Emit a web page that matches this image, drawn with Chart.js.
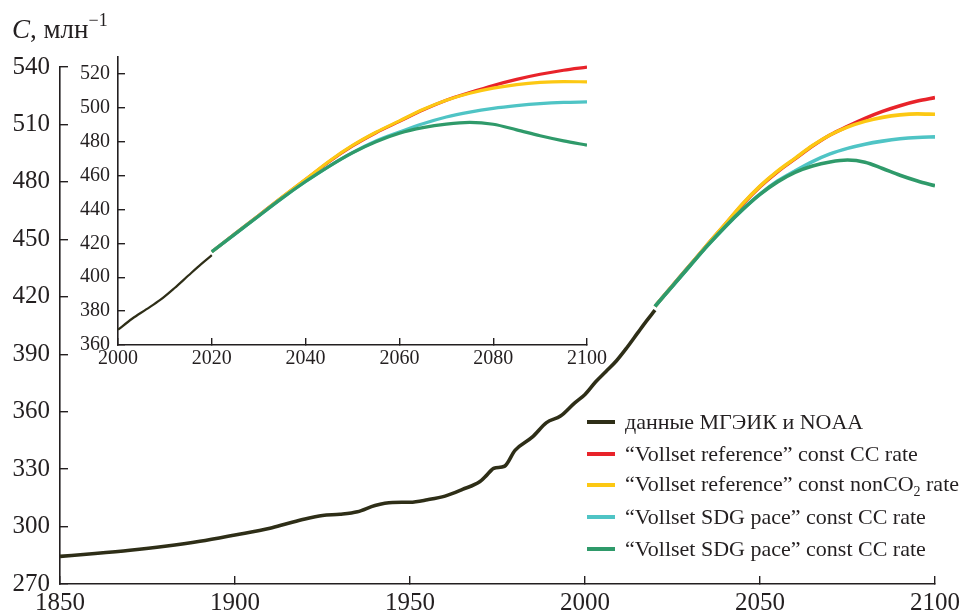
<!DOCTYPE html>
<html>
<head>
<meta charset="utf-8">
<script src="https://cdn.jsdelivr.net/npm/chart.js@4.4.1/dist/chart.umd.min.js"></script>
<style>
    html, body { margin: 0; padding: 0; background: #fff; }
    #wrap { position: relative; width: 963px; height: 613px; font-family: "Liberation Serif", "Times New Roman", serif; color: #231f20; }
    #mainChart { position: absolute; left: 0; top: 0; }
    #insetChart { position: absolute; left: 70px; top: 40px; }
    #yTitle { position: absolute; left: 12px; top: 14px; font-size: 27px; line-height: 30px; white-space: nowrap; }
    #yTitle sup { font-size: 18px; position: relative; top: -3px; vertical-align: top; line-height: 18px; }
    #legend { position: absolute; left: 587px; top: 406px; font-size: 22px; }
    .legend-row { display: flex; align-items: center; height: 31.7px; white-space: nowrap; }
    .legend-swatch { width: 28px; height: 4px; margin-right: 10px; }
    .legend-row sub { font-size: 14px; }
</style>
</head>
<body>
<div id="wrap">
    <canvas id="mainChart" width="963" height="613"></canvas>
    <canvas id="insetChart" width="540" height="330"></canvas>
    <div id="yTitle"><i>C</i>, млн<sup>−1</sup></div>
    <div id="legend"></div>
</div>
<script>
// observed concentration (IPCC / NOAA)
const histYears = [1850, 1860, 1870, 1880, 1890, 1900, 1910, 1915, 1920, 1925, 1930, 1935, 1940, 1945, 1950, 1955, 1960, 1965, 1970, 1972, 1974, 1977, 1980, 1985, 1989, 1993, 1997, 2000, 2003, 2006, 2009, 2012, 2015, 2017, 2020];
const histValues = [284.4, 285.9, 287.6, 289.7, 292.3, 295.6, 299.1, 301.6, 304.0, 305.8, 306.4, 307.7, 311.0, 312.6, 312.7, 314.0, 315.9, 319.4, 323.5, 327.0, 330.5, 331.5, 339.8, 346.8, 354.3, 357.7, 364.5, 369.0, 375.5, 381.0, 386.6, 393.5, 401.0, 406.0, 413.0];

// scenario projections
const projYears = [2020, 2025, 2030, 2035, 2040, 2045, 2050, 2055, 2060, 2065, 2070, 2075, 2080, 2085, 2090, 2095, 2100];
const refCC = [415, 425.8, 436.5, 447.2, 457.6, 468.2, 477.5, 485.3, 492.0, 498.7, 504.5, 509.0, 513.2, 516.8, 519.8, 522.2, 524.0];
const refNonCO2 = [415, 425.8, 436.5, 447.3, 457.8, 468.5, 477.8, 485.6, 492.3, 499.0, 504.5, 508.6, 511.6, 513.7, 515.0, 515.5, 515.3];
const sdgCC = [415, 425.6, 436.2, 446.7, 456.5, 465.5, 473.6, 480.4, 485.7, 490.6, 494.6, 497.5, 499.7, 501.3, 502.5, 503.2, 503.5];
const sdgCC2 = [415, 425.6, 436.2, 446.7, 456.5, 465.5, 473.5, 480.0, 485.0, 488.3, 490.4, 491.4, 490.3, 487.0, 483.5, 480.5, 478.0];

const seriesNames = [
    'данные МГЭИК и NOAA',
    '“Vollset reference” const CC rate',
    '“Vollset reference” const nonCO<sub>2</sub> rate',
    '“Vollset SDG pace” const CC rate',
    '“Vollset SDG pace” const CC rate'
];
const seriesColors = ['#2e2e17', '#e8232a', '#fcc813', '#4fc4c5', '#2f9a6a'];

const textColor = '#231f20';
const serif = '"Liberation Serif", "Times New Roman", serif';

function toPoints(xs, ys, fromX) {
    const pts = [];
    xs.forEach((x, i) => { if (fromX === undefined || x >= fromX) pts.push({ x, y: ys[i] }); });
    return pts;
}

function makeDatasets(histWidth, projWidth, fromX) {
    const sources = [
        [histYears, histValues],
        [projYears, refCC],
        [projYears, refNonCO2],
        [projYears, sdgCC],
        [projYears, sdgCC2]
    ];
    // green on top of cyan, yellow on top of red, observations on top of all
    const drawOrder = [0, 4, 3, 2, 1];
    return sources.map(([xs, ys], i) => ({
        label: seriesNames[i],
        data: toPoints(xs, ys, fromX),
        borderColor: seriesColors[i],
        backgroundColor: seriesColors[i],
        borderWidth: i === 0 ? histWidth : projWidth,
        pointRadius: 0,
        fill: false,
        cubicInterpolationMode: 'monotone',
        borderCapStyle: 'butt',
        order: drawOrder[i]
    }));
}

function axis(min, max, step, fontSize, pad, tick, size) {
    return {
        type: 'linear',
        min, max,
        ticks: {
            stepSize: step,
            includeBounds: false,
            padding: pad,
            color: textColor,
            font: { family: serif, size: fontSize },
            maxRotation: 0,
            autoSkip: false,
            callback: v => String(v)
        },
        grid: { drawOnChartArea: false, drawTicks: true, tickLength: -tick, color: textColor, lineWidth: 1.4 },
        border: { color: textColor, width: 1.6 },
        afterFit: s => {
            if (s.isHorizontal()) s.height = size; else s.width = size;
            // keep label overflow from shrinking the plot area
            s.paddingLeft = s.paddingRight = s.paddingTop = s.paddingBottom = 0;
        }
    };
}

const baseOptions = (padding, xScale, yScale) => ({
    responsive: false,
    animation: false,
    layout: { padding },
    plugins: { legend: { display: false }, tooltip: { enabled: false } },
    scales: { x: xScale, y: yScale }
});

new Chart(document.getElementById('mainChart'), {
    type: 'line',
    data: { datasets: makeDatasets(3.6, 3.6) },
    options: baseOptions(
        { left: 0, top: 67, right: 28, bottom: 0 },
        axis(1850, 2100, 50, 25, 12, 8, 29),
        axis(270, 540, 30, 25, 18, 8, 60)
    )
});

new Chart(document.getElementById('insetChart'), {
    type: 'line',
    data: { datasets: makeDatasets(2.2, 3.2, 2000) },
    options: baseOptions(
        { left: 0, top: 17, right: 23, bottom: 0 },
        axis(2000, 2100, 20, 20, 9, 7, 25),
        axis(360, 530, 20, 20, 15, 7, 48)
    )
});

// legend built from the same names and colours
const legendEl = document.getElementById('legend');
seriesNames.forEach((name, i) => {
    const row = document.createElement('div');
    row.className = 'legend-row';
    row.innerHTML = '<span class="legend-swatch" style="background:' + seriesColors[i] + '"></span><span>' + name + '</span>';
    legendEl.appendChild(row);
});
</script>
</body>
</html>
